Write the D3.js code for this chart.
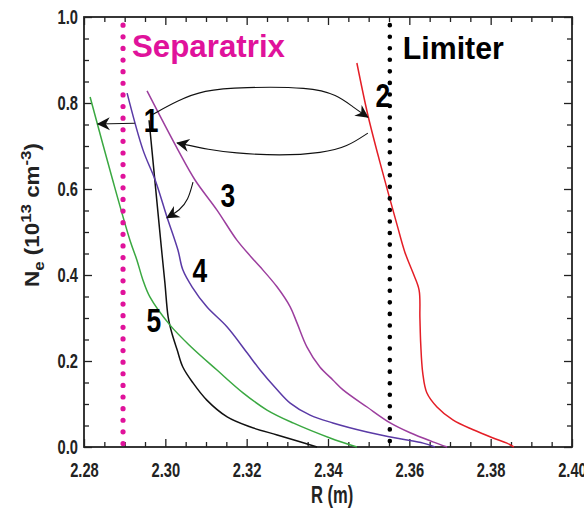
<!DOCTYPE html>
<html>
<head>
<meta charset="utf-8">
<script src="https://cdn.jsdelivr.net/npm/d3@7"></script>
<style>
  html, body { margin: 0; padding: 0; background: #fff; }
  svg { display: block; font-family: "Liberation Sans", Arial, Helvetica, sans-serif; font-weight: bold; }
</style>
</head>
<body>
<svg id="chart" width="584" height="508"></svg>
<script>
// Density profiles, [R (m), Ne (1e13 cm^-3)]
const curve1 = [[2.2960,0.760],[2.2967,0.691],[2.2986,0.505],[2.2992,0.447],[2.2999,0.381],[2.3007,0.302],
  [2.3016,0.265],[2.3029,0.226],[2.3043,0.186],[2.3068,0.149],[2.3102,0.109],[2.3152,0.070],
  [2.3208,0.047],[2.3275,0.028],[2.3331,0.012],[2.3373,0.000]];
const curve2 = [[2.3471,0.893],[2.3498,0.772],[2.3523,0.679],[2.3548,0.591],[2.3570,0.516],[2.3589,0.453],
  [2.3609,0.405],[2.3624,0.365],[2.3626,0.300],[2.3628,0.240],[2.3633,0.172],[2.3643,0.126],
  [2.3668,0.093],[2.3707,0.063],[2.3757,0.040],[2.3806,0.021],[2.3840,0.009],[2.3857,0.000]];
const curve3 = [[2.2955,0.828],[2.3031,0.691],[2.3073,0.621],[2.3127,0.551],[2.3176,0.481],[2.3211,0.442],
  [2.3233,0.419],[2.3275,0.372],[2.3307,0.326],[2.3324,0.288],[2.3348,0.233],[2.3380,0.186],
  [2.3412,0.156],[2.3437,0.133],[2.3496,0.093],[2.3553,0.056],[2.3602,0.033],[2.3658,0.012],[2.3693,0.000]];
const curve4 = [[2.2906,0.823],[2.2945,0.691],[2.2975,0.621],[2.3004,0.535],[2.3031,0.458],[2.3043,0.412],
  [2.3066,0.372],[2.3102,0.326],[2.3152,0.279],[2.3201,0.219],[2.3233,0.179],[2.3275,0.133],
  [2.3307,0.102],[2.3356,0.074],[2.3412,0.056],[2.3496,0.035],[2.3577,0.019],[2.3634,0.009],[2.3663,0.000]];
const curve5 = [[2.2815,0.814],[2.2869,0.626],[2.2913,0.481],[2.2930,0.435],[2.2945,0.388],[2.2962,0.349],
  [2.3011,0.284],[2.3061,0.235],[2.3127,0.179],[2.3191,0.126],
  [2.3250,0.086],[2.3314,0.056],[2.3405,0.021],[2.3471,0.000]];

const curves = [curve1, curve2, curve3, curve4, curve5];
const curveColors = ['#111111', '#e41e26', '#9c3e9e', '#5a3aa6', '#3aa841'];
const curveNames = ['1', '2', '3', '4', '5'];
// label anchor (centre x, baseline) in data units
const labelPos = [[2.2965,0.733],[2.3535,0.791],[2.3154,0.558],[2.3085,0.384],[2.2972,0.267]];

const xTicks = [2.28, 2.30, 2.32, 2.34, 2.36, 2.38, 2.40];
const yTicks = [0.0, 0.2, 0.4, 0.6, 0.8, 1.0];

const separatrixR = 2.2896;
const limiterR = 2.3552;

// annotation arrows (data units)
const arrowToGreen = [[2.2925,0.753],[2.2834,0.751]];
const arrowOut = [[2.2970,0.774],[2.3029,0.805],[2.3093,0.830],[2.3191,0.837],[2.3356,0.837],
  [2.3422,0.819],[2.3461,0.791],[2.3498,0.767]];
const arrowBack = [[2.3498,0.730],[2.3447,0.698],[2.3388,0.684],[2.3282,0.677],[2.3166,0.684],
  [2.3110,0.691],[2.3029,0.707]];
const arrowDown = [[2.3068,0.616],[2.3056,0.574],[2.3036,0.551],[2.3004,0.533]];

const width = 584, height = 508;
const margin = { top: 17, right: 12, bottom: 61, left: 84 };

const svg = d3.select('#chart');

const x = d3.scaleLinear().domain([2.28, 2.40]).range([margin.left, width - margin.right]);
const y = d3.scaleLinear().domain([0, 1]).range([height - margin.bottom, margin.top]);

const xMinor = d3.range(2.28, 2.4001, 0.005).filter(v => !xTicks.some(t => Math.abs(t - v) < 1e-6));
const yMinor = d3.range(0, 1.0001, 0.05).filter(v => !yTicks.some(t => Math.abs(t - v) < 1e-6));

const fontStack = '"Liberation Sans", Arial, Helvetica, sans-serif';
const squeeze = 0.7;

function styleAxis(g) {
  g.select('.domain').remove();
  g.selectAll('line').attr('stroke', '#222').attr('stroke-width', 1.3);
  g.attr('font-family', fontStack).attr('font-size', 21).attr('font-weight', 'bold');
}

// bottom
svg.append('g').attr('transform', `translate(0,${y(0)})`)
  .call(d3.axisBottom(x).tickValues(xTicks).tickSize(-8).tickFormat(d3.format('.2f')))
  .call(styleAxis)
  .call(g => g.selectAll('text').attr('y', 30).attr('dy', null).attr('fill', '#222')
    .attr('transform', `scale(${squeeze},1)`));
svg.append('g').attr('transform', `translate(0,${y(0)})`)
  .call(d3.axisBottom(x).tickValues(xMinor).tickSize(-5).tickFormat(''))
  .call(styleAxis);
// top
svg.append('g').attr('transform', `translate(0,${y(1)})`)
  .call(d3.axisTop(x).tickValues(xTicks).tickSize(-8).tickFormat(''))
  .call(styleAxis);
svg.append('g').attr('transform', `translate(0,${y(1)})`)
  .call(d3.axisTop(x).tickValues(xMinor).tickSize(-5).tickFormat(''))
  .call(styleAxis);
// left
svg.append('g').attr('transform', `translate(${x(2.28)},0)`)
  .call(d3.axisLeft(y).tickValues(yTicks).tickSize(-8).tickFormat(d3.format('.1f')))
  .call(styleAxis)
  .call(g => g.selectAll('text').attr('x', -6 / squeeze).attr('fill', '#222')
    .attr('transform', `scale(${squeeze},1)`));
svg.append('g').attr('transform', `translate(${x(2.28)},0)`)
  .call(d3.axisLeft(y).tickValues(yMinor).tickSize(-5).tickFormat(''))
  .call(styleAxis);
// right
svg.append('g').attr('transform', `translate(${x(2.40)},0)`)
  .call(d3.axisRight(y).tickValues(yTicks).tickSize(-8).tickFormat(''))
  .call(styleAxis);
svg.append('g').attr('transform', `translate(${x(2.40)},0)`)
  .call(d3.axisRight(y).tickValues(yMinor).tickSize(-5).tickFormat(''))
  .call(styleAxis);

// frame
svg.append('rect')
  .attr('x', x(2.28)).attr('y', y(1))
  .attr('width', x(2.40) - x(2.28)).attr('height', y(0) - y(1))
  .attr('fill', 'none').attr('stroke', '#222').attr('stroke-width', 1.8);

// profiles
const line = d3.line().x(d => x(d[0])).y(d => y(d[1])).curve(d3.curveCatmullRom.alpha(0.5));
svg.append('g').selectAll('path')
  .data(curves)
  .join('path')
    .attr('d', line)
    .attr('fill', 'none')
    .attr('stroke', (d, i) => curveColors[i])
    .attr('stroke-width', 1.5);

// arrowhead
svg.append('defs').append('marker')
  .attr('id', 'head')
  .attr('markerUnits', 'userSpaceOnUse')
  .attr('viewBox', '-1 -7 15 14')
  .attr('markerWidth', 15).attr('markerHeight', 14)
  .attr('refX', 12).attr('refY', 0)
  .attr('orient', 'auto')
  .append('path')
    .attr('d', 'M0,-6.5 L13,0 L0,6.5 L4,0 Z')
    .attr('fill', '#111');

const arrowLine = d3.line().x(d => x(d[0])).y(d => y(d[1])).curve(d3.curveBasis);
svg.append('g').selectAll('path')
  .data([arrowToGreen, arrowOut, arrowBack, arrowDown])
  .join('path')
    .attr('d', arrowLine)
    .attr('fill', 'none')
    .attr('stroke', '#111')
    .attr('stroke-width', 1.1)
    .attr('marker-end', 'url(#head)');

// curve numbers
svg.append('g').selectAll('text')
  .data(curveNames)
  .join('text')
    .attr('transform', (d, i) => `translate(${x(labelPos[i][0])},${y(labelPos[i][1])}) scale(0.8,1)`)
    .attr('text-anchor', 'middle')
    .attr('font-size', 33)
    .attr('fill', '#000')
    .text(d => d);

// region labels
svg.append('text')
  .attr('x', x(2.2918)).attr('y', y(0.907))
  .attr('font-size', 31).attr('fill', '#e0129b')
  .attr('textLength', 153).attr('lengthAdjust', 'spacingAndGlyphs')
  .text('Separatrix');
svg.append('text')
  .attr('x', x(2.3584)).attr('y', y(0.902))
  .attr('font-size', 32).attr('fill', '#000')
  .attr('textLength', 101).attr('lengthAdjust', 'spacingAndGlyphs')
  .text('Limiter');

// dotted vertical markers
svg.append('line')
  .attr('x1', x(separatrixR)).attr('x2', x(separatrixR))
  .attr('y1', y(0.981)).attr('y2', y(-0.012))
  .attr('stroke', '#e0129b').attr('stroke-width', 5.2)
  .attr('stroke-linecap', 'round').attr('stroke-dasharray', '0 11.62');
svg.append('line')
  .attr('x1', x(limiterR)).attr('x2', x(limiterR))
  .attr('y1', y(0.981)).attr('y2', y(-0.012))
  .attr('stroke', '#000').attr('stroke-width', 4.6)
  .attr('stroke-linecap', 'round').attr('stroke-dasharray', '0 11.55');

// axis titles
svg.append('text')
  .attr('transform', `translate(${x(2.341)},503) scale(0.72,1)`)
  .attr('text-anchor', 'middle')
  .attr('font-size', 23).attr('fill', '#222')
  .text('R (m)');

const yTitle = svg.append('text')
  .attr('text-anchor', 'middle')
  .attr('font-size', 20).attr('fill', '#222');
yTitle.append('tspan').text('N');
yTitle.append('tspan').attr('font-size', 15).attr('dy', 5).text('e');
yTitle.append('tspan').attr('dy', -5).text(' (10');
yTitle.append('tspan').attr('font-size', 15).attr('dy', -8).text('13');
yTitle.append('tspan').attr('dy', 8).text(' cm');
yTitle.append('tspan').attr('font-size', 15).attr('dy', -8).text('-3');
yTitle.append('tspan').attr('dy', 8).text(')');
const titleLen = yTitle.node().getComputedTextLength();
yTitle.attr('transform', `translate(39,215) rotate(-90) scale(${144 / titleLen},1)`);
</script>
</body>
</html>
